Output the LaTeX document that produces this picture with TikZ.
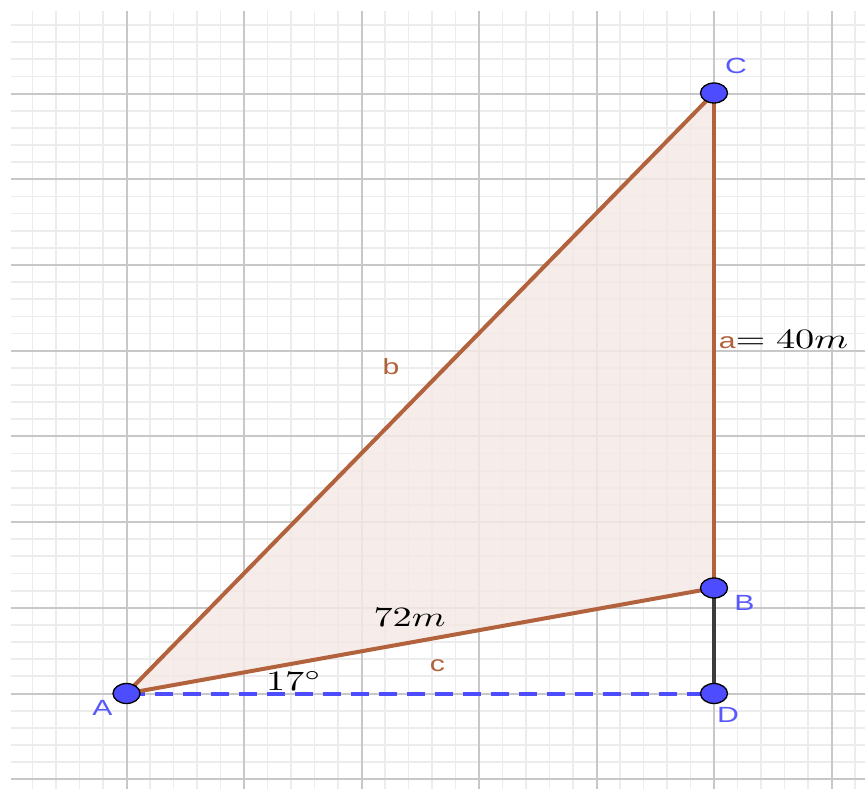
\documentclass[tikz,border=0pt]{standalone}
\usepackage{fontspec}
\setsansfont{Liberation Sans}
\usetikzlibrary{shapes.geometric}
\definecolor{ggbrown}{RGB}{178,98,60}
\definecolor{ggfill}{RGB}{244,233,229}
\definecolor{ggblue}{RGB}{77,77,255}
\definecolor{gglabel}{RGB}{88,88,255}
\definecolor{ggminor}{RGB}{236,236,236}
\definecolor{ggmajor}{RGB}{200,200,200}
\definecolor{ggdark}{RGB}{60,60,60}
\tikzset{
  ptnode/.style={ellipse,draw=black,line width=1.3pt,fill=ggblue,minimum width=27pt,minimum height=20pt,inner sep=0pt},
  ptlabel/.style={text=gglabel,font=\sffamily\fontsize{22}{24}\selectfont,inner sep=0pt,xscale=1.371,transform shape},
  sidelabel/.style={text=ggbrown,font=\sffamily\fontsize{22}{24}\selectfont,inner sep=0pt,xscale=1.371,transform shape},
  mathlabel/.style={font=\fontsize{10}{12}\selectfont,inner sep=0pt,xscale=3.839,yscale=2.8,transform shape},
  edge/.style={ggbrown,line width=4pt}
}
\begin{document}
\begin{tikzpicture}[x=117.5pt,y=85.7pt]
\useasboundingbox (-1.0766,-1.1143) rectangle (6.2851,8.0922);
\draw[ggminor,line width=1.8pt] (-.983,-1.12) grid[xstep=23.5pt,ystep=17.14pt] (6.29,7.964);
\draw[ggmajor,line width=2pt] (-.983,-1.12) grid[xstep=117.5pt,ystep=85.7pt] (6.29,7.964);
\coordinate (A) at (0,0);\coordinate (B) at (5,1.231);
\coordinate (C) at (5,7.007);\coordinate (D) at (5,0);
\fill[ggfill,opacity=.85] (A) -- (B) -- (C) -- cycle;
\draw[ggblue,line width=4pt,dash pattern=on 18pt off 10pt] (A) -- (D);
\draw[ggdark,line width=4pt] (B) -- (D);
\draw[edge] (A) -- (B);
\draw[edge] (B) -- (C);
\draw[edge] (C) -- (A);
\node[ptnode] at (A) (pa) {};\node[ptnode] at (B) (pb) {};
\node[ptnode] at (C) (pc) {};\node[ptnode] at (D) (pd) {};
\node[ptlabel] at (-.204,-.163) (la) {A};
\node[ptlabel] at (5.26,1.056) (lb) {B};
\node[ptlabel] at (5.187,7.322) (lc) {C};
\node[ptlabel] at (5.119,-.251) (ld) {D};
\node[sidelabel] at (2.251,3.816) (sb) {b};
\node[sidelabel] at (2.647,.321) (sc) {c};
\node[mathlabel,anchor=base west] at (5.034,4.031) (sa) {{\sffamily\fontsize{7.86}{9}\selectfont\color{ggbrown}a}$=40m$};
\node[mathlabel,anchor=base] at (2.409,.776) (len) {$72m$};
\node[mathlabel,anchor=base] at (1.426,.033) (ang) {$17^\circ$};
\end{tikzpicture}
\end{document}
